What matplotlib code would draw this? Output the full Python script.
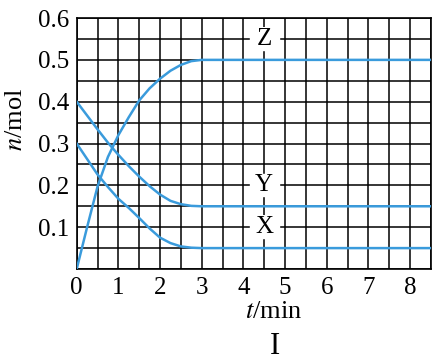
import numpy as np
import matplotlib
matplotlib.use('Agg')
import matplotlib.pyplot as plt
from matplotlib.patches import Rectangle

t = [0, 0.25, 0.5, 0.75, 1.0, 1.25, 1.5, 1.75, 2.0, 2.25, 2.5, 2.75, 3.0, 8.5]
z = [0, 0.10, 0.197, 0.268, 0.32, 0.363, 0.403, 0.432, 0.455, 0.474, 0.488, 0.497, 0.5, 0.5]
y = [0.4, 0.367, 0.334, 0.302, 0.273, 0.246, 0.221, 0.198, 0.178, 0.163, 0.155, 0.151, 0.15, 0.15]
x = [0.3, 0.263, 0.226, 0.196, 0.168, 0.146, 0.122, 0.097, 0.075, 0.062, 0.054, 0.051, 0.05, 0.05]

names = ['Z', 'Y', 'X']
label_t = 4.5
label_n = [0.55, 0.2, 0.1]

blue = '#3a9bdc'
plt.rcParams['font.family'] = 'Liberation Serif'

fig = plt.figure(figsize=(4.37, 3.61), dpi=100)
ax = fig.add_axes([0.1755, 0.2548, 0.8105, 0.6952])

for s in (z, y, x):
    ax.plot(t, s, color=blue, lw=1.8, zorder=5)

ax.set_xlim(0, 8.5)
ax.set_ylim(0, 0.6)
ax.set_xticks(range(0, 9))
ax.set_xticks(np.arange(0, 8.51, 0.5), minor=True)
ax.set_yticks([0.1, 0.2, 0.3, 0.4, 0.5, 0.6])
ax.set_yticks(np.arange(0, 0.601, 0.05), minor=True)
ax.set_yticklabels(['0.1', '0.2', '0.3', '0.4', '0.5', '0.6'])
ax.grid(which='both', color='black', lw=1.1, zorder=1)
ax.set_axisbelow(True)
ax.tick_params(which='both', length=0, labelsize=18)
ax.tick_params(axis='x', pad=6)
ax.tick_params(axis='y', pad=5)
for sp in ax.spines.values():
    sp.set_linewidth(1.2)

# labels with white patch and dashed segment
for name, n in zip(names, label_n):
    ax.add_patch(Rectangle((4.15, n - 0.026), 0.7, 0.052, color='white', zorder=2))
    ax.plot([label_t, label_t], [n - 0.026, n + 0.026], color='black', lw=1.0,
            ls=(0, (3, 3)), zorder=3)
    ax.text(label_t, n, name, ha='center', va='center', fontsize=18, zorder=4,
            bbox=dict(facecolor='white', edgecolor='none', pad=0.5))

fig.text(0.036, 0.67, r'$n$/mol', rotation=90, ha='center', va='center',
         fontsize=19, math_fontfamily='stix')
fig.text(0.627, 0.136, r'$t$/min', ha='center', va='center', fontsize=19,
         math_fontfamily='stix')
fig.text(0.629, 0.039, 'I', ha='center', va='center', fontsize=22)

fig.savefig('out.png', dpi=100)
